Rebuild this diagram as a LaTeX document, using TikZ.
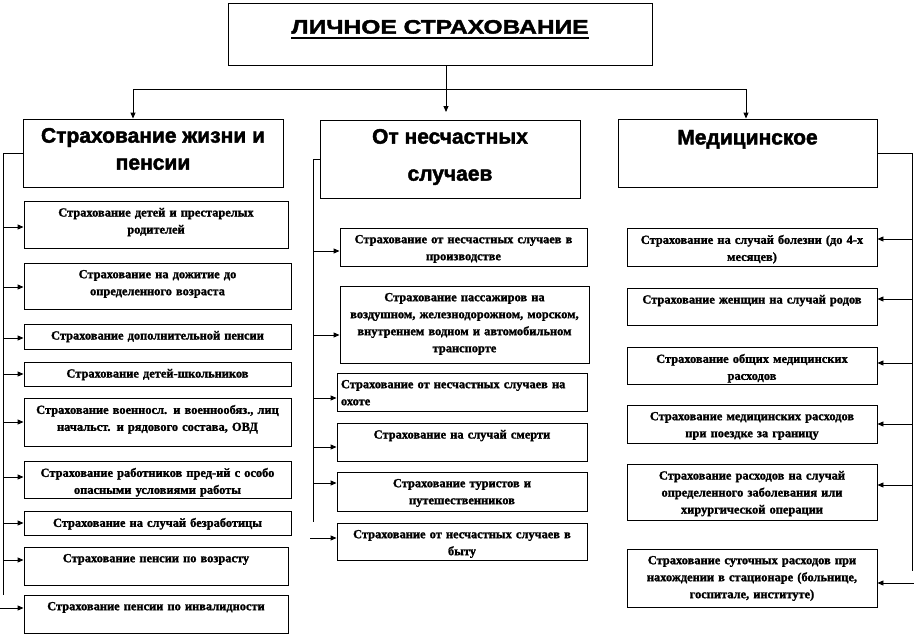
\documentclass[tikz,border=0pt]{standalone}
\usepackage{fontspec}
\setmainfont{Liberation Serif}[BoldFeatures={FakeBold=1.5}]
\newfontfamily\headfont{Liberation Sans}[BoldFeatures={FakeBold=2}]
\newfontfamily\titlefont{Liberation Sans}[FakeStretch=1.26, BoldFeatures={FakeBold=2}]
\usetikzlibrary{arrows.meta,calc}

% thick underline for the title
\newcommand{\ulined}[1]{\setbox0\hbox{#1}\rlap{\rule[-5pt]{\wd0}{1.8pt}}\box0}

% box with its text at the top: [align]{name}{x1}{y1}{x2}{y2}{text}
\newcommand{\leaf}[7][center]{%
  \node[leafbox, minimum width={(#5-#3)*1pt}, minimum height={(#6-#4)*1pt}] (#2) at ({(#3+#5)/2},{(#4+#6)/2}) {};
  \node[leaftext, align=#1, text width={(#5-#3-8)*1pt}] (#2t) at ([yshift=-7pt]#2.north) {#7};
}

\begin{document}
\begin{tikzpicture}[x=1pt, y=-1pt, line width=0.9pt,
    arr/.style={-{Triangle[length=6pt,width=5pt]}},
    leafbox/.style={draw, inner sep=0pt},
    leaftext/.style={anchor=north, inner sep=0pt, font=\bfseries\fontsize{12.4}{17}\selectfont},
    headbox/.style={draw, inner sep=0pt},
    headtext/.style={anchor=north, inner sep=0pt, align=center, font=\headfont\bfseries\fontsize{21}{27}\selectfont}]
  \useasboundingbox (0,0) rectangle (914,637);

  % === заголовок ===
  \node[headbox, minimum width=424pt, minimum height=62pt] (top) at (440,34) {};
  \node[anchor=north, inner sep=0pt, font=\titlefont\bfseries\fontsize{19.5}{22}\selectfont] (topt) at ([yshift=-17pt]top.north) {\ulined{ЛИЧНОЕ СТРАХОВАНИЕ}};

  % === три вида ===
  \node[headbox, minimum width=260pt, minimum height=68pt] (life) at (153,153) {};
  \node[headtext] (lifet) at ([yshift=-9pt]life.north) {Страхование жизни и\\пенсии};
  \node[headbox, minimum width=260pt, minimum height=78pt] (acc) at (450,159) {};
  \node[headtext, font=\headfont\bfseries\fontsize{21}{37}\selectfont] (acct) at ([yshift=-9pt]acc.north) {От несчастных\\случаев};
  \node[headbox, minimum width=259pt, minimum height=68pt] (med) at (747.5,153) {};
  \node[headtext] (medt) at ([yshift=-11pt]med.north) {Медицинское};

  % связи сверху
  \coordinate (accin) at (446,112);
  \coordinate (busL) at (133,89);
  \coordinate (busR) at (746,89);
  \draw[arr] (top.south -| accin) -- (accin);
  \draw (busL) -- (busR);
  \draw[arr] (busL) -- (busL |- life.north);
  \draw[arr] (busR) -- (busR |- med.north);

  % === жизнь и пенсии ===
  \leaf{l1}{24}{201}{288}{248}{Страхование детей и престарелых\\родителей}
  \leaf{l2}{24}{263}{291}{309}{Страхование на дожитие до\\определенного возраста}
  \leaf{l3}{24}{324}{291}{349}{Страхование дополнительной пенсии}
  \leaf{l4}{24}{362}{291}{386}{Страхование детей-школьников}
  \leaf{l5}{24}{398}{291}{446}{Страхование военносл. и военнообяз., лиц\\начальст. и рядового состава, ОВД}
  \leaf{l6}{24}{461}{291}{498}{Страхование работников пред-ий с особо\\опасными условиями работы}
  \leaf{l7}{24}{511}{291}{535}{Страхование на случай безработицы}
  \leaf{l8}{24}{547}{288}{585}{Страхование пенсии по возрасту}
  \leaf{l9}{24}{595}{288}{633}{Страхование пенсии по инвалидности}

  \coordinate (lend) at (3,595);
  \coordinate (lfree) at (0,608);
  \draw (life.west) -| (lend);
  \foreach \n/\y in {l1/227,l2/287,l3/338,l4/374,l5/422,l6/477,l7/523,l8/560}
    \draw[arr] (lend |- 0,\y) -- (\n.west |- 0,\y);
  \draw[arr] (lfree) -- (lfree -| l9.west);

  % === от несчастных случаев ===
  \leaf{m1}{340}{228}{587}{266}{Страхование от несчастных случаев в\\производстве}
  \leaf{m2}{340}{286}{589}{363}{Страхование пассажиров на\\воздушном, железнодорожном, морском,\\внутреннем водном и автомобильном\\транспорте}
  \leaf[left]{m3}{337}{373}{587}{411}{Страхование от несчастных случаев на\\охоте}
  \leaf{m4}{337}{423}{587}{461}{Страхование на случай смерти}
  \leaf{m5}{337}{472}{587}{511}{Страхование туристов и\\путешественников}
  \leaf{m6}{337}{523}{587}{560}{Страхование от несчастных случаев в\\быту}

  \coordinate (mend) at (313,522);
  \coordinate (mfree) at (310,538);
  \draw (acc.west) -| (mend);
  \foreach \n/\y in {m1/251,m2/335,m3/398,m4/447,m5/483}
    \draw[arr] (mend |- 0,\y) -- (\n.west |- 0,\y);
  \draw[arr] (mfree) -- (mfree -| m6.west);

  % === медицинское ===
  \leaf{r1}{627}{228}{877}{266}{Страхование на случай болезни (до 4-х\\месяцев)}
  \leaf{r2}{627}{288}{877}{325}{Страхование женщин на случай родов}
  \leaf{r3}{627}{347}{877}{384}{Страхование общих медицинских\\расходов}
  \leaf{r4}{627}{405}{877}{443}{Страхование медицинских расходов\\при поездке за границу}
  \leaf{r5}{627}{464}{877}{520}{Страхование расходов на случай\\определенного заболевания или\\хирургической операции}
  \leaf{r6}{627}{549}{877}{607}{Страхование суточных расходов при\\нахождении в стационаре (больнице,\\госпитале, институте)}

  \coordinate (rend) at (912,571);
  \coordinate (rfree) at (914,583);
  \draw (med.east) -| (rend);
  \foreach \n/\y in {r1/239,r2/299,r3/363,r4/424,r5/485}
    \draw[arr] (rend |- 0,\y) -- (\n.east |- 0,\y);
  \draw[arr] (rfree) -- (rfree -| r6.east);
\end{tikzpicture}
\end{document}
